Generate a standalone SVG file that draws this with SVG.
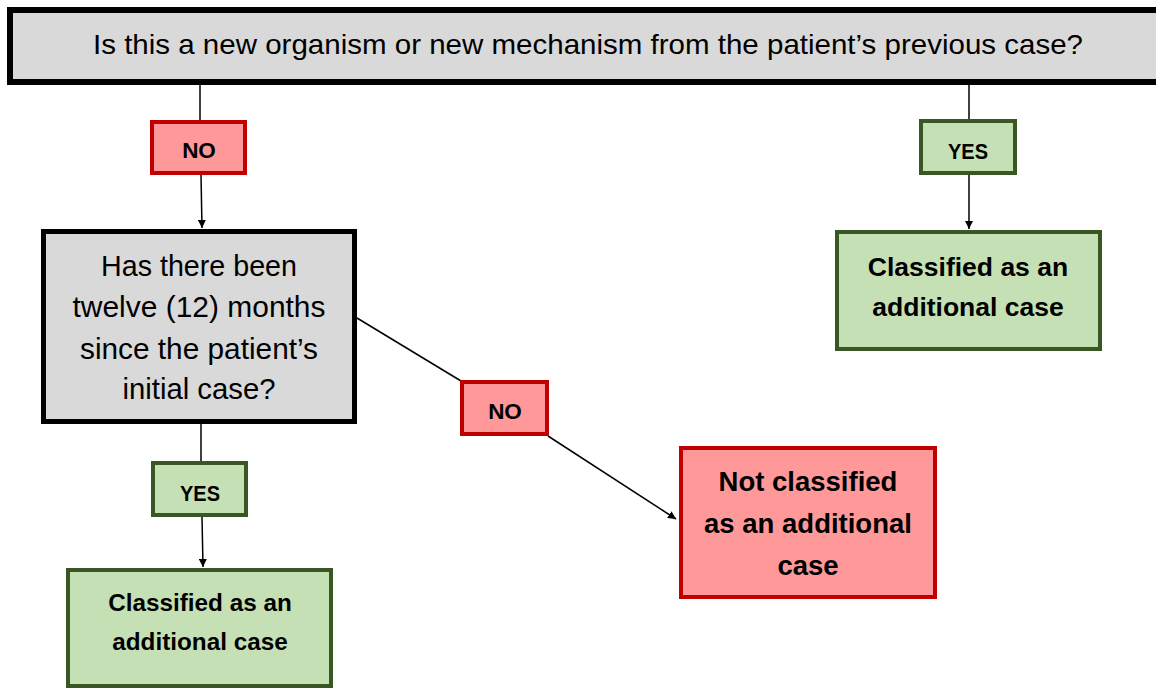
<svg xmlns="http://www.w3.org/2000/svg" width="1156" height="688" viewBox="0 0 1156 688">
<defs>
<marker id="arr" viewBox="0 0 10 10" refX="10" refY="5" markerWidth="8" markerHeight="8" markerUnits="userSpaceOnUse" orient="auto">
<path d="M0,0 L10,5 L0,10 z" fill="#000"/>
</marker>
<style>
.q{fill:#D9D9D9;stroke:#000;}
.no{fill:#FF9999;stroke:#C00000;stroke-width:4;}
.yes{fill:#C5E0B4;stroke:#385723;stroke-width:4;}
.t{font-family:"Liberation Sans",Arial,sans-serif;fill:#000;text-anchor:middle;}
.b{font-weight:bold;}
.c{stroke:#000;stroke-width:1.5;fill:none;}
</style>
</defs>
<g id="connectors">
<line class="c" x1="200" y1="85" x2="200" y2="121"/>
<line class="c" x1="201" y1="175" x2="202" y2="228" marker-end="url(#arr)"/>
<line class="c" x1="969" y1="85" x2="969" y2="120"/>
<line class="c" x1="969" y1="175" x2="969" y2="229" marker-end="url(#arr)"/>
<line class="c" x1="357" y1="318" x2="461" y2="381"/>
<line class="c" x1="548" y1="436" x2="676" y2="519" marker-end="url(#arr)"/>
<line class="c" x1="201" y1="424" x2="201" y2="462"/>
<line class="c" x1="202" y1="517" x2="203" y2="567" marker-end="url(#arr)"/>
</g>
<g id="q1">
<rect class="q" x="10" y="10" width="1152" height="72" stroke-width="6"/>
<text class="t" x="588" y="54" font-size="28" textLength="990" lengthAdjust="spacingAndGlyphs">Is this a new organism or new mechanism from the patient’s previous case?</text>
</g>
<g id="no1">
<rect class="no" x="152" y="122" width="93" height="51"/>
<text class="t b" x="199" y="158" font-size="22.5">NO</text>
</g>
<g id="yes1">
<rect class="yes" x="921" y="121" width="94" height="52"/>
<text class="t b" x="968" y="159" font-size="22" textLength="40" lengthAdjust="spacingAndGlyphs">YES</text>
</g>
<g id="add1">
<rect class="yes" x="837" y="232" width="263" height="117"/>
<text class="t b" x="968" y="276" font-size="26.5">Classified as an</text>
<text class="t b" x="968" y="316" font-size="26.5">additional case</text>
</g>
<g id="q2">
<rect class="q" x="43.5" y="231.5" width="311" height="190" stroke-width="5"/>
<text class="t" x="199" y="276" font-size="29" textLength="196" lengthAdjust="spacingAndGlyphs">Has there been</text>
<text class="t" x="199" y="317" font-size="29" textLength="253" lengthAdjust="spacingAndGlyphs">twelve (12) months</text>
<text class="t" x="199" y="359" font-size="29" textLength="238" lengthAdjust="spacingAndGlyphs">since the patient’s</text>
<text class="t" x="199" y="399" font-size="29" textLength="153" lengthAdjust="spacingAndGlyphs">initial case?</text>
</g>
<g id="no2">
<rect class="no" x="462" y="382" width="85" height="52"/>
<text class="t b" x="505" y="419" font-size="22.5">NO</text>
</g>
<g id="notadd">
<rect class="no" x="681" y="448" width="254" height="149"/>
<text class="t b" x="808" y="491" font-size="27.5">Not classified</text>
<text class="t b" x="808" y="533" font-size="27.5">as an additional</text>
<text class="t b" x="808" y="575" font-size="27.5">case</text>
</g>
<g id="yes2">
<rect class="yes" x="153" y="463" width="93" height="52"/>
<text class="t b" x="200" y="501" font-size="22" textLength="40" lengthAdjust="spacingAndGlyphs">YES</text>
</g>
<g id="add2">
<rect class="yes" x="68" y="570" width="263" height="116"/>
<text class="t b" x="200" y="611" font-size="24.3">Classified as an</text>
<text class="t b" x="200" y="650" font-size="24.3">additional case</text>
</g>
</svg>
